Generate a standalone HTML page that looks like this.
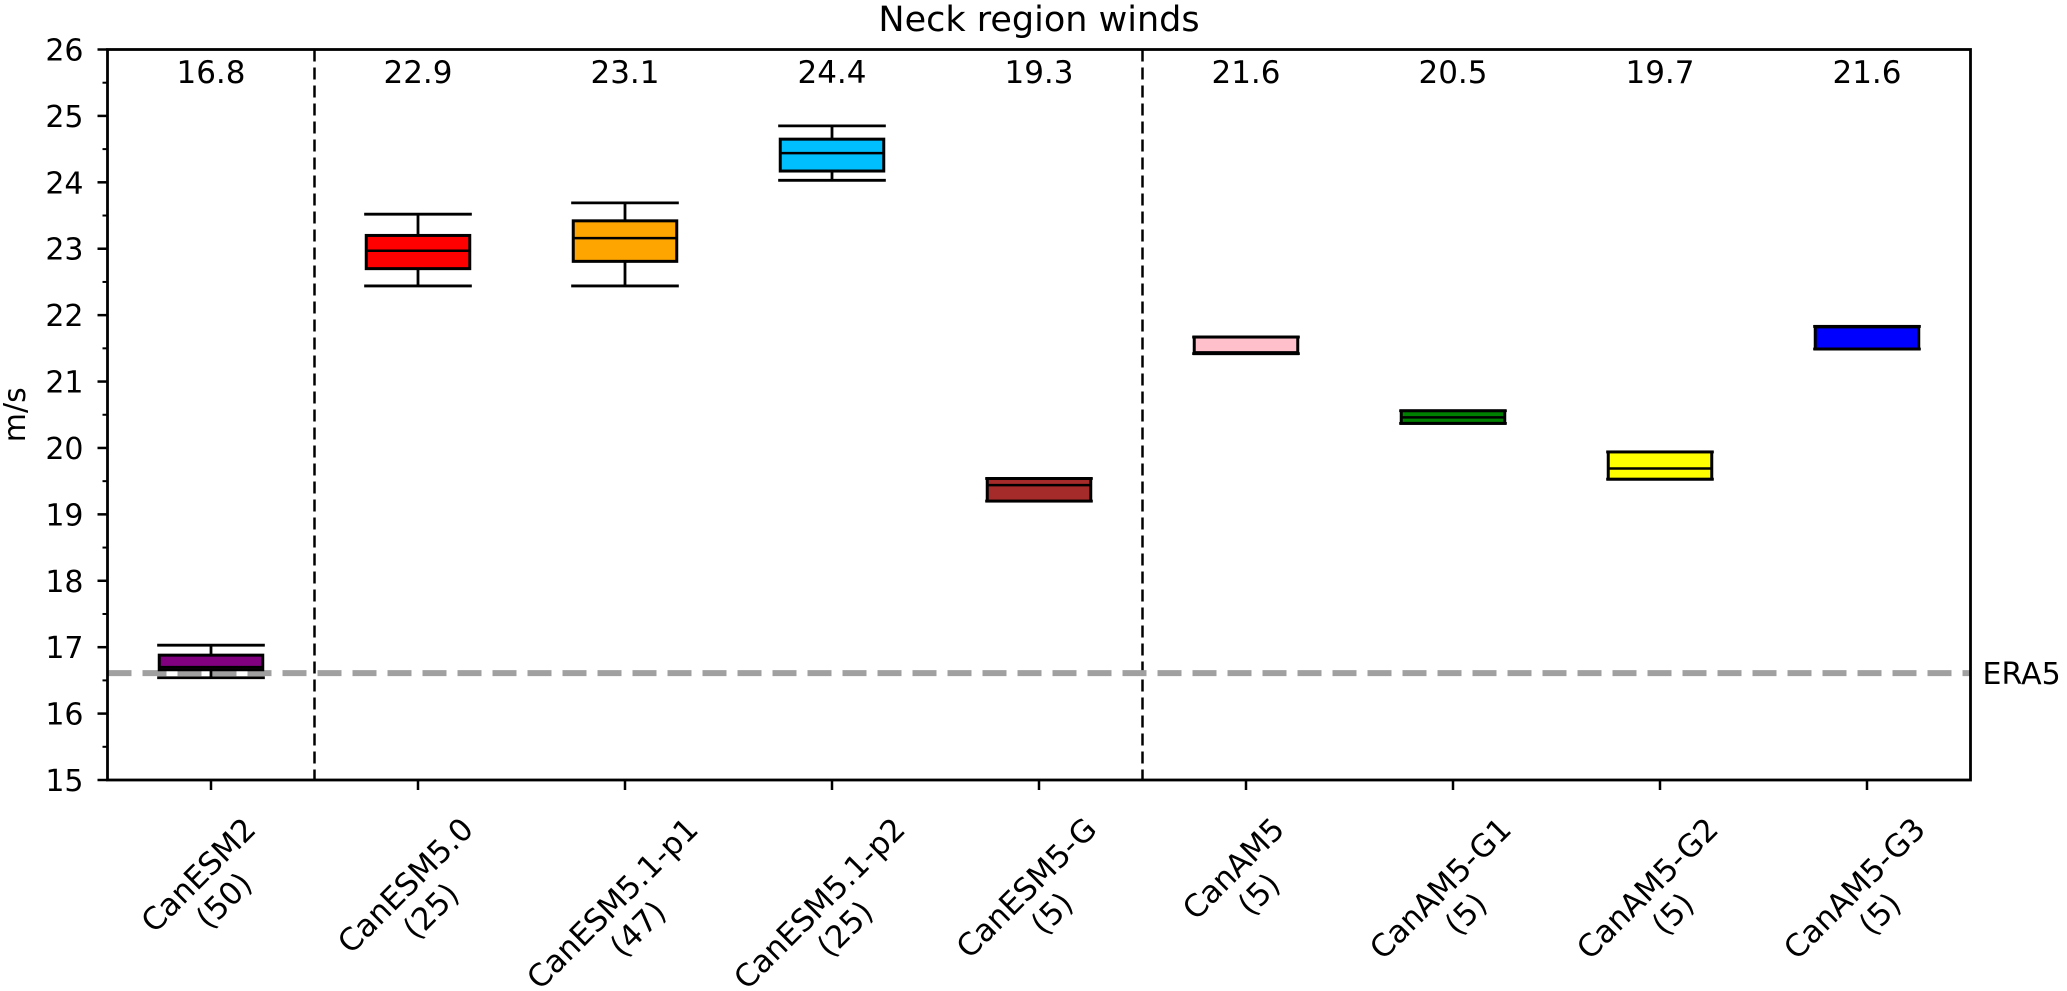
<!DOCTYPE html>
<html><head><meta charset="utf-8"><style>
html,body{margin:0;padding:0;background:#fff;}
svg{display:block;font-family:"DejaVu Sans","Liberation Sans",sans-serif;}
</style></head><body>
<svg id="chart" width="2067" height="991"></svg>
<script>
const categories=["CanESM2","CanESM5.0","CanESM5.1-p1","CanESM5.1-p2","CanESM5-G","CanAM5","CanAM5-G1","CanAM5-G2","CanAM5-G3"];
const counts=["(50)","(25)","(47)","(25)","(5)","(5)","(5)","(5)","(5)"];
const colors=["#800080","#ff0000","#ffa500","#00bfff","#a52a2a","#ffc0cb","#008000","#ffff00","#0000ff"];
const whiskerLow=[16.54,22.44,22.44,24.03,19.20,21.42,20.37,19.53,21.49];
const q1=[16.66,22.70,22.81,24.17,19.20,21.42,20.37,19.53,21.49];
const medians=[16.70,22.97,23.16,24.44,19.44,21.44,20.46,19.69,21.82];
const q3=[16.88,23.20,23.42,24.65,19.54,21.67,20.56,19.94,21.83];
const whiskerHigh=[17.03,23.52,23.69,24.85,19.54,21.67,20.56,19.94,21.83];
const meanLabels=["16.8","22.9","23.1","24.4","19.3","21.6","20.5","19.7","21.6"];
const yTicks=[15,16,17,18,19,20,21,22,23,24,25,26];
const era5=16.61;
const separators=[0.5,4.5];

const L=107.5,R=1970.5,T=49.5,B=780,ymin=15,ymax=26;
const FS=30, XFS=31;
const band=(R-L)/categories.length;
const X=i=>L+band*(i+0.5);
const Y=v=>T+(ymax-v)/(ymax-ymin)*(B-T);
const svg=document.getElementById('chart');
const NS="http://www.w3.org/2000/svg";
function mk(tag,attrs,parent){const e=document.createElementNS(NS,tag);for(const k in attrs)e.setAttribute(k,attrs[k]);(parent||svg).appendChild(e);return e;}

let t=mk('text',{x:(L+R)/2,y:31,'text-anchor':'middle','font-size':35,fill:'#000'});
t.textContent="Neck region winds";



t=mk('text',{x:0,y:0,transform:`translate(25,${(T+B)/2}) rotate(-90)`,'text-anchor':'middle','font-size':FS});
t.textContent="m/s";



const yAxis=mk('g',{});


yTicks.forEach(v=>{
  mk('line',{x1:L-10,x2:L,y1:Y(v),y2:Y(v),stroke:'#000','stroke-width':2.5},yAxis);
  const lab=mk('text',{x:L-24,y:Y(v)+11,'text-anchor':'end','font-size':FS},yAxis);
  lab.textContent=v;
  
  
  if(v<ymax) mk('line',{x1:L-5,x2:L,y1:Y(v+0.5),y2:Y(v+0.5),stroke:'#000','stroke-width':2},yAxis);
});

separators.forEach(s=>{
  const l=mk('line',{x1:L+band*(s+0.5),x2:L+band*(s+0.5),y1:T,y2:B,stroke:'#000','stroke-width':2.5,'stroke-dasharray':'12 6'});
  
  
});

let e=mk('line',{x1:L,x2:R,y1:Y(era5),y2:Y(era5),stroke:'#a0a0a0','stroke-width':6,'stroke-dasharray':'24 11'});


t=mk('text',{x:R+12,y:Y(era5)+11,'font-size':FS});
t.textContent="ERA5";



const bw=band*0.5, cw=band*0.26;
const K=Math.SQRT1_2;
categories.forEach((c,i)=>{
  const g=mk('g',{});
  
  
  const x=X(i);
  mk('line',{x1:x,x2:x,y1:Y(whiskerHigh[i]),y2:Y(q3[i]),stroke:'#000','stroke-width':2.8},g);
  mk('line',{x1:x,x2:x,y1:Y(q1[i]),y2:Y(whiskerLow[i]),stroke:'#000','stroke-width':2.8},g);
  mk('line',{x1:x-cw,x2:x+cw,y1:Y(whiskerHigh[i]),y2:Y(whiskerHigh[i]),stroke:'#000','stroke-width':2.8},g);
  mk('line',{x1:x-cw,x2:x+cw,y1:Y(whiskerLow[i]),y2:Y(whiskerLow[i]),stroke:'#000','stroke-width':2.8},g);
  mk('rect',{x:x-bw/2,y:Y(q3[i]),width:bw,height:Math.max(1,Y(q1[i])-Y(q3[i])),fill:colors[i],stroke:'#000','stroke-width':3},g);
  mk('line',{x1:x-bw/2,x2:x+bw/2,y1:Y(medians[i]),y2:Y(medians[i]),stroke:'#000','stroke-width':2.5},g);
  const m=mk('text',{x:x,y:83,'text-anchor':'middle','font-size':31});
  m.textContent=meanLabels[i];
  
  
  mk('line',{x1:x,x2:x,y1:B,y2:B+10,stroke:'#000','stroke-width':2.5});
  const lg=mk('g',{transform:`translate(${x},900) rotate(-45)`});
  
  
  const b1=-7,b2=29;
  const a=mk('text',{x:0,y:b1,'text-anchor':'middle','font-size':XFS},lg); a.textContent=c;
  const b=mk('text',{x:0,y:b2,'text-anchor':'middle','font-size':XFS},lg); b.textContent=counts[i];
  const w1=a.getComputedTextLength(), w2=b.getComputedTextLength();
  const cap=0.73*XFS;
  const pts=[];
  [[w1,b1],[w2,b2]].forEach(([w,bl])=>{
    [-w/2,w/2].forEach(u=>[bl-cap,bl].forEach(v=>pts.push([u*K+v*K,-u*K+v*K])));
  });
  const xs=pts.map(p=>p[0]), ys=pts.map(p=>p[1]);
  const cx=(Math.min(...xs)+Math.max(...xs))/2, top=Math.min(...ys);
  lg.setAttribute('transform',`translate(${x-13-cx},${815-top}) rotate(-45)`);
});

const f=mk('rect',{x:L,y:T,width:R-L,height:B-T,fill:'none',stroke:'#000','stroke-width':2.8});


</script>
</body></html>
